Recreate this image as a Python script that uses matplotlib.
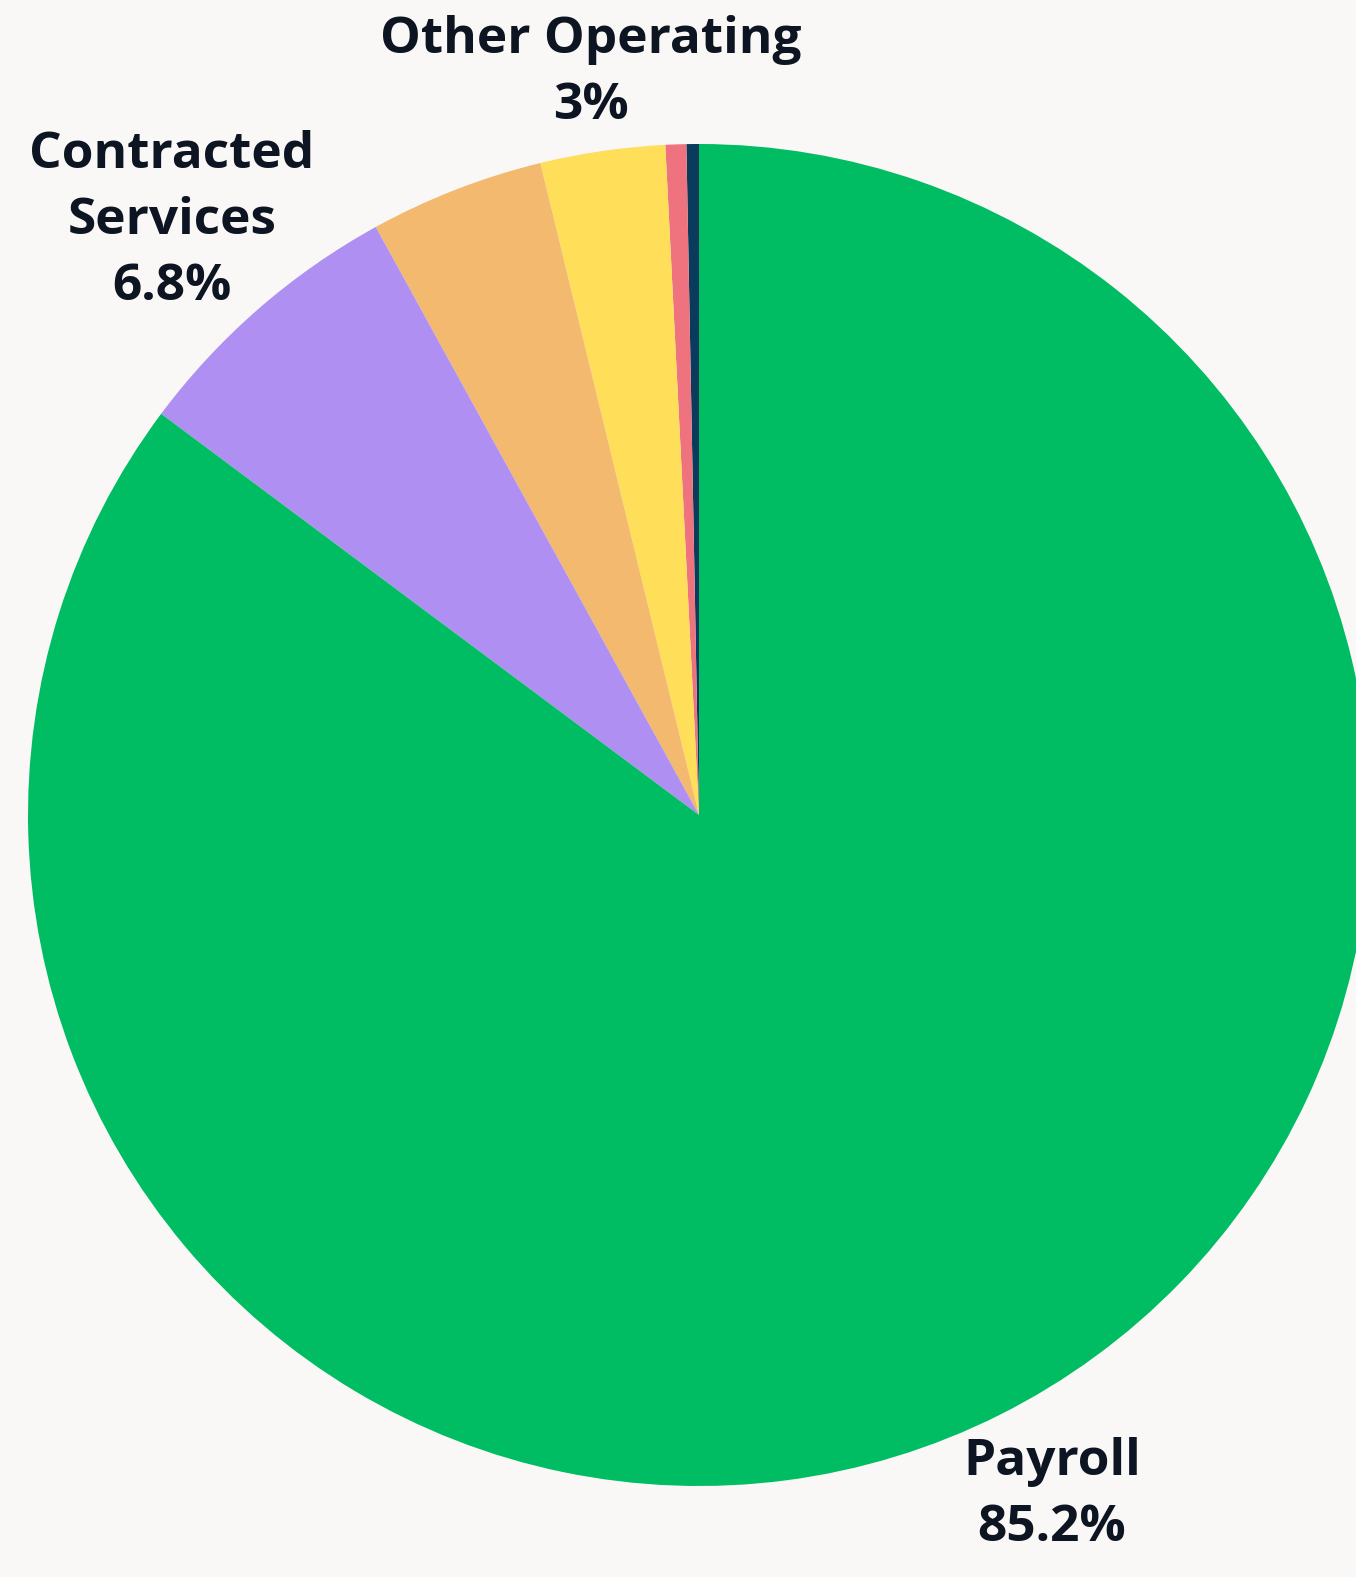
import numpy as np
import matplotlib
matplotlib.use("Agg")
import matplotlib.pyplot as plt

# data (counter-clockwise from the top)
labels = ["", "", "Other Operating", "", "Contracted\nServices", "Payroll"]
values = [0.3, 0.5, 3.0, 4.2, 6.8, 85.2]
pct_text = ["", "", "3%", "", "6.8%", "85.2%"]
colors = ["#0A3A5C", "#EF737E", "#FFDE5A", "#F2B96F", "#AF8FF2", "#00BD63"]

W, H = 1356, 1577
bg = "#F9F8F6"
ink = "#0E1522"

fig = plt.figure(figsize=(W / 100, H / 100), dpi=100, facecolor=bg)
ax = fig.add_axes([0, 0, 1, 1])
ax.set_facecolor(bg)

ax.pie(values, colors=colors, startangle=90, counterclock=True,
       center=(699, H - 815), radius=671, frame=True,
       wedgeprops=dict(linewidth=0))
ax.set_xlim(0, W)
ax.set_ylim(0, H)
ax.set_aspect("equal")
ax.axis("off")

font = dict(family=["Open Sans", "DejaVu Sans"], fontweight="bold",
            fontsize=37, color=ink, ha="center", va="center", linespacing=1.42)

# label positions in pixels (from top)
pos = {2: (591, 73), 4: (172, 221), 5: (1052, 1495)}
for i, (x, y) in pos.items():
    ax.text(x, H - y, labels[i] + "\n" + pct_text[i], **font)

fig.savefig("out.png", dpi=100, facecolor=bg)
